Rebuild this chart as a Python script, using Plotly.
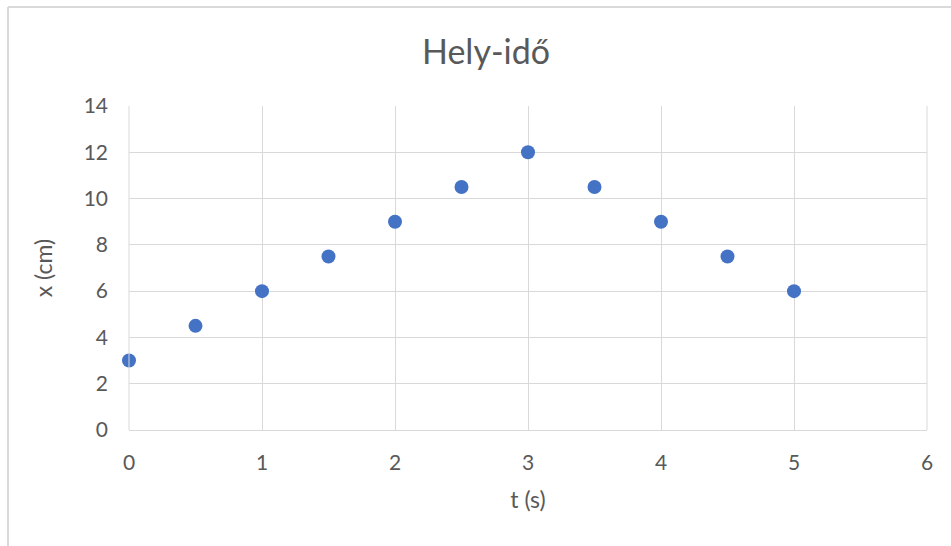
import plotly.graph_objects as go

t_values = [0, 0.5, 1, 1.5, 2, 2.5, 3, 3.5, 4, 4.5, 5]
x_values = [3, 4.5, 6, 7.5, 9, 10.5, 12, 10.5, 9, 7.5, 6]
title_text = "Hely-idő"
x_title = "t (s)"
y_title = "x (cm)"

W, H = 951, 546
L, R, T, B = 129, 24, 106, 116
pw = W - L - R
ph = H - T - B

fig = go.Figure()
fig.add_trace(go.Scatter(
    x=t_values, y=x_values, mode="markers",
    marker=dict(color="#4472C4", size=14, line=dict(width=0)),
    showlegend=False, cliponaxis=False,
))

font_family = "Lato, sans-serif"
grid = "#d9d9d9"
txt = "#595959"

fig.update_layout(
    width=W, height=H,
    margin=dict(l=L, r=R, t=T, b=B, pad=0),
    paper_bgcolor="white", plot_bgcolor="white",
    font=dict(family=font_family, color=txt, size=21),
    title=dict(text=title_text, xref="container", x=486 / W, xanchor="center",
               yref="container", y=1 - 52 / H, yanchor="middle",
               font=dict(size=34, color=txt, family=font_family)),
    xaxis=dict(range=[0, 6], dtick=1, tick0=0, showgrid=True, gridcolor=grid, gridwidth=1,
               zeroline=False, showline=True, linecolor=grid, linewidth=1, mirror=False,
               ticks="", ticklen=0, ticklabelstandoff=14,
               tickfont=dict(size=21, color=txt, family=font_family),
               title=dict(text=x_title, font=dict(size=23, color=txt, family=font_family), standoff=18)),
    yaxis=dict(range=[0, 14], dtick=2, tick0=0, showgrid=True, gridcolor=grid, gridwidth=1,
               zeroline=False, showline=False,
               ticks="", ticklen=0, ticklabelstandoff=20,
               tickfont=dict(size=21, color=txt, family=font_family),
               title=dict(text=y_title, font=dict(size=23, color=txt, family=font_family), standoff=24)),
    shapes=[
        dict(type="line", xref="paper", yref="paper",
             x0=0, x1=0, y0=0, y1=1, line=dict(color=grid, width=1)),
        dict(type="line", xref="paper", yref="paper",
             x0=1, x1=1, y0=0, y1=1, line=dict(color=grid, width=1)),
        dict(type="line", xref="paper", yref="paper",
             x0=(8 - L) / pw, x1=1.2, y0=1 + (T - 7) / ph, y1=1 + (T - 7) / ph,
             line=dict(color="#d9d9d9", width=2)),
        dict(type="line", xref="paper", yref="paper",
             x0=(8 - L) / pw, x1=(8 - L) / pw, y0=-0.5, y1=1 + (T - 7) / ph,
             line=dict(color="#d9d9d9", width=2)),
    ],
)

fig.write_html("out.html")
